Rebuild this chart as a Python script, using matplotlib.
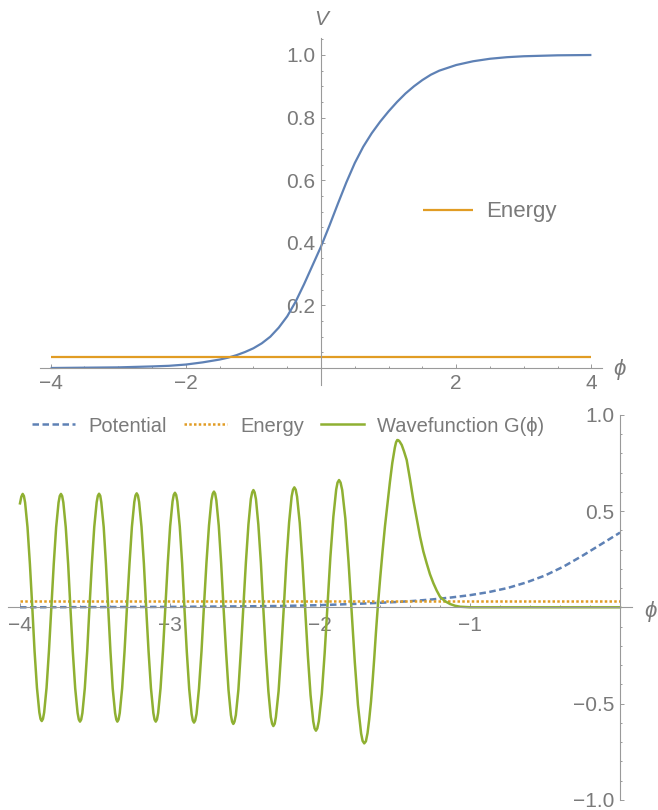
import matplotlib.pyplot as plt

plt.rcParams['font.family'] = ['Liberation Sans', 'DejaVu Sans']
plt.rcParams['axes.unicode_minus'] = True

BLUE = '#5e81b5'
ORANGE = '#e19c24'
GREEN = '#8fb032'
AXIS = '#9a9a9a'
TEXT = '#7a7a7a'

# potential V(phi)
v_phi = [-4.0, -3.5, -3.0, -2.5, -2.25, -2.0, -1.75, -1.5, -1.375, -1.25,
         -1.125, -1.0, -0.875, -0.75, -0.625, -0.5, -0.375, -0.25, -0.125, 0.0,
         0.125, 0.25, 0.375, 0.5, 0.625, 0.75, 0.875, 1.0, 1.125, 1.25,
         1.375, 1.5, 1.625, 1.75, 2.0, 2.25, 2.5, 2.75, 3.0, 3.5, 4.0]
v_val = [0.000, 0.001, 0.002, 0.005, 0.007, 0.011, 0.018, 0.027, 0.033, 0.041,
         0.051, 0.063, 0.079, 0.100, 0.129, 0.165, 0.212, 0.268, 0.328, 0.388,
         0.455, 0.525, 0.593, 0.655, 0.707, 0.750, 0.787, 0.820, 0.850, 0.877,
         0.900, 0.920, 0.937, 0.950, 0.968, 0.980, 0.988, 0.993, 0.996, 0.999, 1.000]

energy = 0.034
energy_span = [-4.0, 4.0]

# wavefunction G(phi) (one row per half swing)
wave_phi = [-4.000, -3.991,
            -3.982, -3.974, -3.966, -3.950, -3.934, -3.918, -3.903, -3.887, -3.871, -3.863,
            -3.855, -3.847, -3.839, -3.823, -3.807, -3.791, -3.775, -3.759, -3.743, -3.735,
            -3.727, -3.719, -3.711, -3.695, -3.679, -3.664, -3.648, -3.632, -3.616, -3.608,
            -3.600, -3.592, -3.584, -3.568, -3.552, -3.537, -3.521, -3.505, -3.489, -3.481,
            -3.473, -3.465, -3.458, -3.442, -3.427, -3.412, -3.397, -3.382, -3.366, -3.358,
            -3.351, -3.343, -3.335, -3.319, -3.303, -3.287, -3.270, -3.254, -3.238, -3.230,
            -3.222, -3.214, -3.206, -3.190, -3.174, -3.159, -3.143, -3.127, -3.111, -3.103,
            -3.095, -3.087, -3.079, -3.063, -3.047, -3.031, -3.015, -2.999, -2.983, -2.975,
            -2.967, -2.959, -2.951, -2.935, -2.919, -2.904, -2.888, -2.872, -2.856, -2.848,
            -2.840, -2.832, -2.823, -2.807, -2.790, -2.774, -2.757, -2.740, -2.724, -2.715,
            -2.707, -2.699, -2.691, -2.675, -2.659, -2.643, -2.626, -2.610, -2.594, -2.586,
            -2.578, -2.570, -2.561, -2.544, -2.528, -2.511, -2.494, -2.477, -2.461, -2.452,
            -2.444, -2.436, -2.427, -2.411, -2.394, -2.378, -2.361, -2.344, -2.328, -2.319,
            -2.311, -2.302, -2.294, -2.276, -2.259, -2.241, -2.224, -2.206, -2.189, -2.180,
            -2.171, -2.162, -2.153, -2.135, -2.117, -2.099, -2.081, -2.063, -2.045, -2.036,
            -2.027, -2.018, -2.008, -1.988, -1.969, -1.950, -1.931, -1.911, -1.892, -1.883,
            -1.873, -1.863, -1.852, -1.831, -1.810, -1.789, -1.768, -1.747, -1.726, -1.716,
            -1.705, -1.694, -1.683, -1.672, -1.660, -1.649, -1.638, -1.627,
            -1.615, -1.599, -1.583, -1.567, -1.550, -1.534, -1.518, -1.501, -1.493,
            -1.485, -1.478, -1.470, -1.455, -1.440, -1.422, -1.400, -1.378, -1.355, -1.333,
            -1.311, -1.289, -1.267, -1.244, -1.222, -1.200, -1.167, -1.133,
            -1.100, -1.067, -1.000, 0.000]
wave_g = [0.540, 0.575,
          0.589, 0.578, 0.544, 0.416, 0.225, -0.001, -0.227, -0.418, -0.546, -0.580,
          -0.591, -0.580, -0.546, -0.418, -0.227, -0.001, 0.225, 0.416, 0.544, 0.578,
          0.589, 0.578, 0.544, 0.416, 0.224, -0.003, -0.229, -0.421, -0.549, -0.583,
          -0.594, -0.583, -0.549, -0.421, -0.229, -0.002, 0.225, 0.417, 0.545, 0.579,
          0.590, 0.579, 0.545, 0.417, 0.225, -0.002, -0.229, -0.421, -0.549, -0.583,
          -0.594, -0.583, -0.549, -0.420, -0.228, -0.001, 0.226, 0.418, 0.547, 0.581,
          0.592, 0.581, 0.547, 0.418, 0.226, -0.001, -0.228, -0.420, -0.549, -0.583,
          -0.594, -0.583, -0.549, -0.420, -0.227, 0.000, 0.228, 0.421, 0.550, 0.584,
          0.595, 0.584, 0.550, 0.420, 0.227, -0.002, -0.231, -0.424, -0.554, -0.588,
          -0.599, -0.588, -0.553, -0.423, -0.229, 0.001, 0.231, 0.425, 0.555, 0.590,
          0.601, 0.590, 0.555, 0.424, 0.229, -0.003, -0.234, -0.429, -0.560, -0.594,
          -0.606, -0.594, -0.560, -0.428, -0.231, 0.002, 0.234, 0.431, 0.563, 0.597,
          0.609, 0.597, 0.562, 0.429, 0.231, -0.004, -0.239, -0.437, -0.570, -0.605,
          -0.617, -0.605, -0.570, -0.435, -0.234, 0.003, 0.240, 0.441, 0.576, 0.611,
          0.623, 0.611, 0.575, 0.438, 0.233, -0.009, -0.251, -0.456, -0.593, -0.629,
          -0.641, -0.629, -0.592, -0.450, -0.239, 0.010, 0.259, 0.470, 0.612, 0.648,
          0.661, 0.648, 0.609, 0.461, 0.239, -0.023, -0.285, -0.507, -0.655, -0.694,
          -0.707, -0.696, -0.653, -0.583, -0.490, -0.380, -0.260, -0.130,
          0.000, 0.150, 0.290, 0.420, 0.540, 0.650, 0.750, 0.830, 0.857,
          0.869, 0.868, 0.862, 0.843, 0.810, 0.765, 0.665, 0.557, 0.460, 0.367,
          0.290, 0.229, 0.172, 0.125, 0.087, 0.055, 0.032, 0.017,
          0.008, 0.003, 0.000, 0.000]

top_xticks = [-4, -2, 2, 4]
top_yticks = [0.2, 0.4, 0.6, 0.8, 1.0]
bot_xticks = [-4, -3, -2, -1]
bot_yticks = [-1.0, -0.5, 0.5, 1.0]


def fmt(v, digits):
    return ('%.*f' % (digits, v)).replace('-', '\u2212')


def style_axes(ax, xbounds, ybounds):
    ax.patch.set_alpha(0)
    for s in ['top', 'right']:
        ax.spines[s].set_visible(False)
    for s in ['left', 'bottom']:
        ax.spines[s].set_position(('data', 0))
        ax.spines[s].set_color(AXIS)
        ax.spines[s].set_linewidth(0.8)
    ax.spines['bottom'].set_bounds(*xbounds)
    ax.spines['left'].set_bounds(*ybounds)
    ax.tick_params(which='both', direction='in', color=AXIS, width=0.7,
                   labelcolor=TEXT, labelsize=15, pad=4)
    ax.tick_params(which='major', length=3)
    ax.tick_params(which='minor', length=1.7)


fig = plt.figure(figsize=(6.58, 8.10), dpi=100)

# upper panel: V(phi)
ax1 = fig.add_axes([16.8 / 658, 1 - 399.3 / 810, 625.3 / 658, 391.25 / 810])
ax1.set_xlim(-4.5, 4.75)
ax1.set_ylim(-0.1, 1.15)
ax1.plot(v_phi, v_val, color=BLUE, lw=1.6, solid_capstyle='butt',
         solid_joinstyle='round')
ax1.plot(energy_span, [energy, energy], color=ORANGE, lw=1.6,
         solid_capstyle='butt', label='Energy')
style_axes(ax1, (-4.16, 4.16), (-0.055, 1.055))
ax1.set_xticks(top_xticks, [fmt(v, 0) for v in top_xticks])
ax1.set_yticks(top_yticks, [fmt(v, 1) for v in top_yticks])
ax1.set_xticks([i * 0.5 for i in range(-8, 9) if i % 4 != 0], minor=True)
ax1.set_yticks([i * 0.05 for i in range(1, 22) if i % 4 != 0], minor=True)
ax1.text(0, 1.112, 'V', style='italic', color=TEXT, fontsize=15,
         ha='center', va='center')
ax1.text(4.41, -0.004, '\u03d5', style='italic', color=TEXT, fontsize=16,
         ha='center', va='center')
ax1.legend(loc='center left', bbox_to_anchor=(423 / 658, 1 - 212 / 810),
           bbox_transform=fig.transFigure, frameon=False, fontsize=16,
           labelcolor=TEXT, handlelength=2.25, handletextpad=0.6,
           borderpad=0, borderaxespad=0)

# lower panel: potential, energy and wavefunction
ax2 = fig.add_axes([2 / 658, 1 - 809.4 / 810, 655.5 / 658, 410 / 810])
ax2.set_xlim(-4.12, 0.25)
ax2.set_ylim(-1.05, 1.08)
pot_phi = [p for p in v_phi if p <= 0]
pot_val = v_val[:len(pot_phi)]
ax2.plot(pot_phi, pot_val, color=BLUE, lw=1.8, dashes=(2.6, 1.4),
         label='Potential')
ax2.plot([-4.0, 0.0], [energy, energy], color=ORANGE, lw=1.8,
         dashes=(1.0, 0.9), label='Energy')
ax2.plot(wave_phi, wave_g, color=GREEN, lw=1.8, solid_joinstyle='round',
         label='Wavefunction G(\u03d5)')
style_axes(ax2, (-4.08, 0.078), (-1.0, 1.0))
ax2.set_xticks(bot_xticks, [fmt(v, 0) for v in bot_xticks])
ax2.set_yticks(bot_yticks, [fmt(v, 1) for v in bot_yticks])
ax2.set_xticks([-4 + i * 0.2 for i in range(0, 20) if i % 5 != 0], minor=True)
ax2.set_yticks([-1 + i * 0.1 for i in range(0, 21) if i % 5 != 0], minor=True)
ax2.tick_params(axis='x', pad=6)
ax2.text(0.2, -0.02, '\u03d5', style='italic', color=TEXT, fontsize=16,
         ha='center', va='center')
ax2.legend(loc='center left', bbox_to_anchor=(31.7 / 658, 1 - 426 / 810),
           bbox_transform=fig.transFigure, frameon=False, fontsize=14.5,
           labelcolor=TEXT, ncol=3, handlelength=2.15, handletextpad=0.65,
           columnspacing=0.85, borderpad=0, borderaxespad=0)

fig.savefig('out.png', dpi=100)
